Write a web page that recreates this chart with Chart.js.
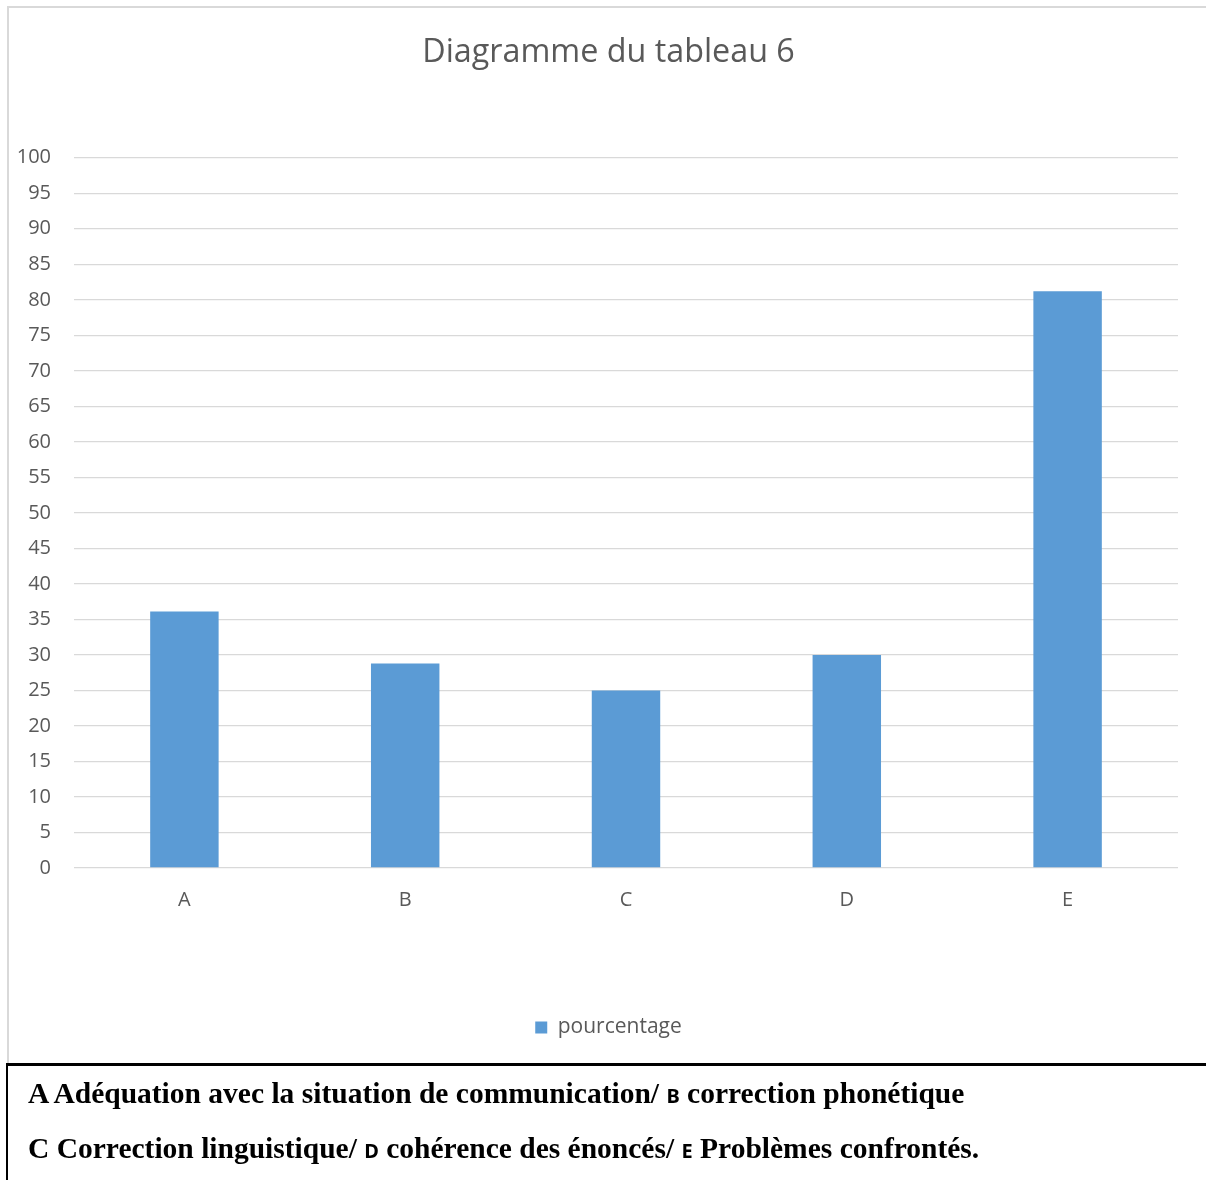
<!DOCTYPE html>
<html>
<head>
<meta charset="utf-8">
<script src="https://cdn.jsdelivr.net/npm/chart.js@4/dist/chart.umd.min.js"></script>
<style>
  html, body { margin: 0; padding: 0; background: #fff; }
  body { width: 1206px; height: 1180px; position: relative; overflow: hidden; }
  #frame {
    position: absolute; left: 7px; top: 6px; width: 1199px; height: 1058px;
    border-left: 2px solid #d9d9d9; border-top: 2px solid #d9d9d9;
  }
  #wrap { position: absolute; left: 0; top: 0; width: 1199px; height: 1056px; }
  #note {
    position: absolute; left: 6px; top: 1063px; width: 1200px; height: 117px;
    border-top: 3px solid #000; border-left: 2px solid #000;
    font-family: "Liberation Serif", "Times New Roman", serif; font-weight: bold;
    font-size: 29.5px; color: #000;
  }
  #note p { margin: 0; position: absolute; left: 20px; white-space: nowrap; }
  #note .k { font-family: "Noto Sans", "Open Sans", sans-serif; font-size: 20px; font-weight: bold; }
</style>
</head>
<body>
<div id="frame"><div id="wrap"><canvas id="c"></canvas></div></div>
<div id="note">
  <p style="top:11px">A Adéquation avec la situation de communication/ <span class="k">B</span> correction phonétique</p>
  <p style="top:66px">C Correction linguistique/ <span class="k">D</span> cohérence des énoncés/ <span class="k">E</span> Problèmes confrontés.</p>
</div>
<script>
const categories = ['A', 'B', 'C', 'D', 'E'];
const seriesName = 'pourcentage';
const pourcentage = [36.1, 28.8, 25, 30, 81.2];
const titleText = 'Diagramme du tableau 6';

const grey = '#595959';
new Chart(document.getElementById('c'), {
  type: 'bar',
  data: {
    labels: categories,
    datasets: [{
      label: seriesName,
      data: pourcentage,
      backgroundColor: '#5b9bd5',
      borderWidth: 0,
      barPercentage: 0.31,
      categoryPercentage: 1
    }]
  },
  options: {
    responsive: true,
    maintainAspectRatio: false,
    animation: false,
    layout: { padding: { left: 0, right: 0, top: 0, bottom: 16 } },
    plugins: {
      title: {
        display: true, text: titleText, color: grey,
        font: { family: 'Open Sans', size: 32.3, weight: 'normal' },
        padding: { top: 25, bottom: 86 }
      },
      legend: {
        position: 'bottom',
        labels: {
          color: grey, boxWidth: 12, boxHeight: 12,
          font: { family: 'Open Sans', size: 21 }, padding: 10
        }
      },
      tooltip: { enabled: false }
    },
    scales: {
      x: {
        grid: { display: false, drawTicks: false },
        border: { display: false },
        ticks: { color: grey, font: { family: 'Open Sans', size: 20 }, padding: 20 },
        afterFit: s => { s.height = 139; }
      },
      y: {
        min: 0, max: 100,
        grid: { color: '#d9d9d9', lineWidth: 1.3, drawTicks: false },
        border: { display: false },
        ticks: { stepSize: 5, color: grey, font: { family: 'Open Sans', size: 20 }, padding: 23 },
        afterFit: s => { s.width = 65; }
      },
      // empty right-hand gutter so the plot stops short of the frame edge
      gutter: {
        position: 'right',
        grid: { display: false, drawTicks: false },
        border: { display: false },
        ticks: { display: false },
        afterFit: s => { s.width = 30; }
      }
    }
  }
});
</script>
</body>
</html>
